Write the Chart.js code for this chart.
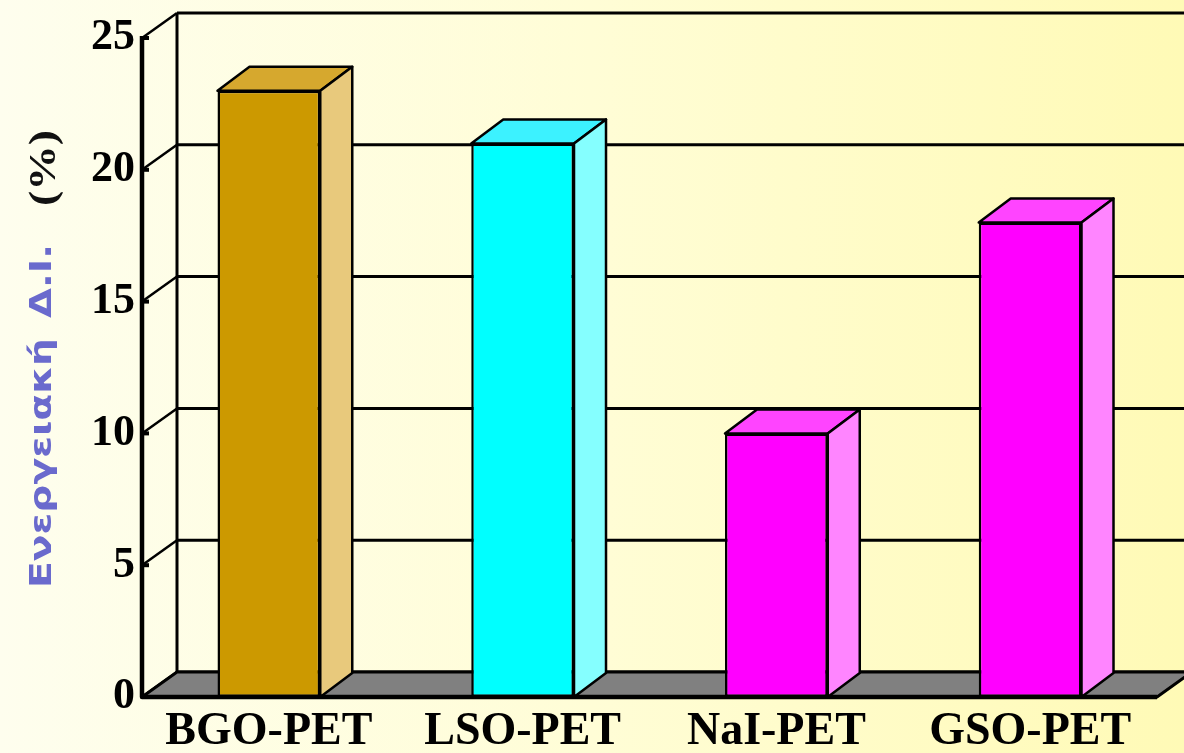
<!DOCTYPE html>
<html>
<head>
<meta charset="utf-8">
<script src="https://cdn.jsdelivr.net/npm/chart.js@4.4.1/dist/chart.umd.min.js"></script>
<style>
  html, body { margin: 0; padding: 0; background: #fffff0; }
  #wrap { width: 1184px; height: 753px; position: relative; overflow: hidden; }
  canvas { display: block; }
</style>
</head>
<body>
<div id="wrap"><canvas id="c" width="1184" height="753"></canvas></div>
<script>
// Energy resolution of PET scintillator crystals
const categories = ['BGO-PET', 'LSO-PET', 'NaI-PET', 'GSO-PET'];
const resolution = [23, 21, 10, 18];
const frontColors = ['#CC9900', '#00FFFF', '#FF00FF', '#FF00FF'];
const topColors = ['#D6A82E', '#3CF2FF', '#FF44FF', '#FF44FF'];
const sideColors = ['#E8C97C', '#85FFFF', '#FF85FF', '#FF85FF'];
const yTicks = [0, 5, 10, 15, 20, 25];
const titleWord = 'Ενεργειακή';
const titleAbbr = 'Δ.Ι.';
const axisUnit = '(%)';

// depth offsets of the pseudo-3D box and of the bars
const WALL_DX = 35, WALL_DY = -25;
const BAR_DX = 32, BAR_DY = -24;

function poly(ctx, pts, fill, lw) {
  ctx.beginPath();
  ctx.moveTo(pts[0][0], pts[0][1]);
  for (let i = 1; i < pts.length; i++) ctx.lineTo(pts[i][0], pts[i][1]);
  ctx.closePath();
  if (fill) { ctx.fillStyle = fill; ctx.fill(); }
  ctx.lineWidth = lw;
  ctx.strokeStyle = '#000';
  ctx.lineJoin = 'round';
  ctx.stroke();
}

// draws text along the rotated axis, stretched to span a given length
function stretchedText(ctx, text, start, length, offset) {
  const w = ctx.measureText(text).width;
  ctx.save();
  ctx.translate(start, offset);
  ctx.scale(length / w, 1);
  ctx.fillText(text, 0, 0);
  ctx.restore();
}

const depthPlugin = {
  id: 'depth',
  beforeDraw(chart) {
    const ctx = chart.ctx;
    const g = ctx.createLinearGradient(0, 0, chart.width, 0);
    g.addColorStop(0, '#FEFEEE');
    g.addColorStop(0.5, '#FFFDD6');
    g.addColorStop(1, '#FFFAB6');
    ctx.save();
    ctx.fillStyle = g;
    ctx.fillRect(0, 0, chart.width, chart.height);
    ctx.restore();
  },
  beforeDatasetsDraw(chart) {
    const ctx = chart.ctx;
    const a = chart.chartArea;
    const ys = chart.scales.y;
    ctx.save();
    ctx.strokeStyle = '#000';
    ctx.lineCap = 'butt';
    // back wall gridlines and diagonal depth lines
    yTicks.forEach(v => {
      const yf = ys.getPixelForValue(v);
      const yb = yf + WALL_DY;
      ctx.lineWidth = 3;
      ctx.beginPath();
      ctx.moveTo(a.left + WALL_DX, yb);
      ctx.lineTo(chart.width + 10, yb);
      ctx.stroke();
      ctx.lineWidth = 2.5;
      ctx.beginPath();
      ctx.moveTo(a.left, yf);
      ctx.lineTo(a.left + WALL_DX, yb);
      ctx.stroke();
    });
    // back wall left edge
    ctx.lineWidth = 3;
    ctx.beginPath();
    ctx.moveTo(a.left + WALL_DX, ys.getPixelForValue(25) + WALL_DY);
    ctx.lineTo(a.left + WALL_DX, a.bottom + WALL_DY);
    ctx.stroke();
    // floor
    poly(ctx, [
      [a.left, a.bottom],
      [a.left + WALL_DX, a.bottom + WALL_DY],
      [a.right + WALL_DX, a.bottom + WALL_DY],
      [a.right, a.bottom]
    ], '#808080', 3);
    ctx.restore();
  },
  afterDatasetsDraw(chart) {
    const ctx = chart.ctx;
    const a = chart.chartArea;
    const ys = chart.scales.y;
    const meta = chart.getDatasetMeta(0);
    ctx.save();
    meta.data.forEach((bar, i) => {
      const p = bar.getProps(['x', 'y', 'width', 'base'], true);
      const l = p.x - p.width / 2, r = p.x + p.width / 2;
      poly(ctx, [[l, p.y], [l + BAR_DX, p.y + BAR_DY], [r + BAR_DX, p.y + BAR_DY], [r, p.y]], topColors[i], 2.5);
      poly(ctx, [[r, p.y], [r + BAR_DX, p.y + BAR_DY], [r + BAR_DX, p.base + BAR_DY], [r, p.base]], sideColors[i], 2.5);
    });
    // front value axis and front floor edge
    ctx.strokeStyle = '#000';
    ctx.lineWidth = 4.5;
    ctx.beginPath();
    ctx.moveTo(a.left, ys.getPixelForValue(25) - 2);
    ctx.lineTo(a.left, a.bottom);
    ctx.lineTo(a.right, a.bottom);
    ctx.stroke();
    // short tick marks on the value axis
    ctx.lineWidth = 4;
    yTicks.forEach(v => {
      const yf = ys.getPixelForValue(v);
      ctx.beginPath();
      ctx.moveTo(a.left, yf);
      ctx.lineTo(a.left + 7, yf);
      ctx.stroke();
    });
    ctx.restore();
  },
  afterDraw(chart) {
    const ctx = chart.ctx;
    ctx.save();
    // rotated value-axis title: Greek caption in blue, unit in black serif
    ctx.translate(43, 0);
    ctx.rotate(-Math.PI / 2);
    ctx.textBaseline = 'middle';
    ctx.textAlign = 'left';
    ctx.font = 'bold 30px "DejaVu Sans", sans-serif';
    ctx.fillStyle = '#6A6ACD';
    stretchedText(ctx, titleWord, -588, 250, 0);
    stretchedText(ctx, titleAbbr, -318, 74, 0);
    ctx.font = 'bold 38px "Liberation Serif", "Times New Roman", serif';
    ctx.fillStyle = '#111';
    stretchedText(ctx, axisUnit, -206, 76, 2);
    ctx.restore();
  }
};

new Chart(document.getElementById('c'), {
  type: 'bar',
  data: {
    labels: categories,
    datasets: [{
      data: resolution,
      backgroundColor: frontColors,
      borderColor: '#000',
      borderWidth: 2.5,
      borderSkipped: false,
      barPercentage: 0.405,
      categoryPercentage: 1.0
    }]
  },
  options: {
    responsive: false,
    animation: false,
    events: [],
    layout: { padding: { left: 0, right: 27, top: 38, bottom: 0 } },
    plugins: {
      legend: { display: false },
      tooltip: { enabled: false },
      title: { display: false }
    },
    scales: {
      x: {
        grid: { display: false, drawTicks: false, tickLength: 0 },
        border: { display: false },
        ticks: {
          color: '#000',
          padding: 8,
          font: { family: '"Liberation Serif", "Times New Roman", serif', size: 46, weight: 'bold' }
        },
        afterFit(scale) { scale.height = 56; }
      },
      y: {
        min: 0,
        max: 25,
        grid: { display: false, drawTicks: false, tickLength: 0 },
        border: { display: false },
        afterBuildTicks(scale) { scale.ticks = yTicks.map(v => ({ value: v })); },
        ticks: {
          color: '#000',
          padding: 7,
          font: { family: '"Liberation Serif", "Times New Roman", serif', size: 44, weight: 'bold' }
        },
        afterFit(scale) { scale.width = 142; }
      }
    }
  },
  plugins: [depthPlugin]
});
</script>
</body>
</html>
